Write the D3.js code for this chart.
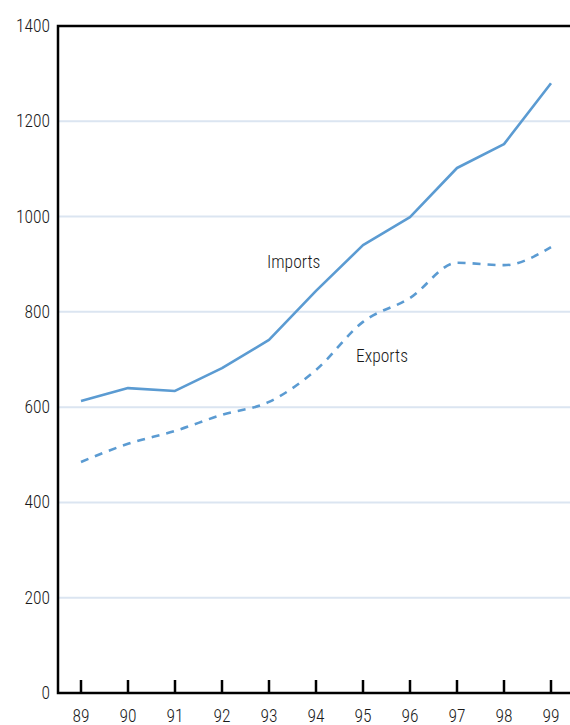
<!DOCTYPE html>
<html><head><meta charset="utf-8">
<script src="https://cdn.jsdelivr.net/npm/d3@7"></script>
<style>body{margin:0;background:#fff}svg{display:block}text{font-family:"Roboto Condensed","Liberation Sans Narrow",sans-serif;font-weight:300;fill:#1a1a1a}</style>
</head><body><svg id="c" width="570" height="725"></svg>
<script>
const years = ["89","90","91","92","93","94","95","96","97","98","99"];
const imports = [613,640,634,682,741,844,940,999,1102,1152,1280];
const exports = [485,523,550,584,611,678,779,829,903,898,936];
const yTicks = [0,200,400,600,800,1000,1200,1400];

const svg = d3.select("#c");
const x = d3.scalePoint().domain(years).range([81,551]);
const y = d3.scaleLinear().domain([0,1400]).range([693,26]);

svg.append("g").selectAll("line").data(yTicks.filter(d=>d>0&&d<1400)).join("line")
  .attr("x1",59).attr("x2",570).attr("y1",d=>y(d)).attr("y2",d=>y(d))
  .attr("stroke","#dbe5f1").attr("stroke-width",2);

svg.append("g").selectAll("text").data(yTicks).join("text")
  .attr("x",50).attr("y",d=>y(d)+6).attr("text-anchor","end")
  .attr("font-size",17.5).text(d=>d);

const gx = svg.append("g");
gx.selectAll("line").data(years).join("line")
  .attr("x1",d=>x(d)).attr("x2",d=>x(d)).attr("y1",680).attr("y2",693)
  .attr("stroke","#000").attr("stroke-width",2.5);
gx.selectAll("text").data(years).join("text")
  .attr("x",d=>x(d)).attr("y",722).attr("text-anchor","middle")
  .attr("font-size",17.5).text(d=>d);

svg.append("path").attr("d","M570,26H58V693H570")
  .attr("fill","none").attr("stroke","#000").attr("stroke-width",2.5);

const col = "#5b9bd2";
const lineStraight = d3.line().x((d,i)=>x(years[i])).y(d=>y(d));
const lineCurve = d3.line().x((d,i)=>x(years[i])).y(d=>y(d)).curve(d3.curveMonotoneX);
svg.append("path").attr("d",lineStraight(imports)).attr("fill","none")
  .attr("stroke",col).attr("stroke-width",2.6).attr("stroke-linejoin","round");
svg.append("path").attr("d",lineCurve(exports)).attr("fill","none")
  .attr("stroke",col).attr("stroke-width",2.6).attr("stroke-dasharray","8,7");

svg.append("text").attr("x",267).attr("y",268).attr("font-size",17.5).text("Imports");
svg.append("text").attr("x",356).attr("y",362).attr("font-size",17.5).text("Exports");
</script></body></html>
